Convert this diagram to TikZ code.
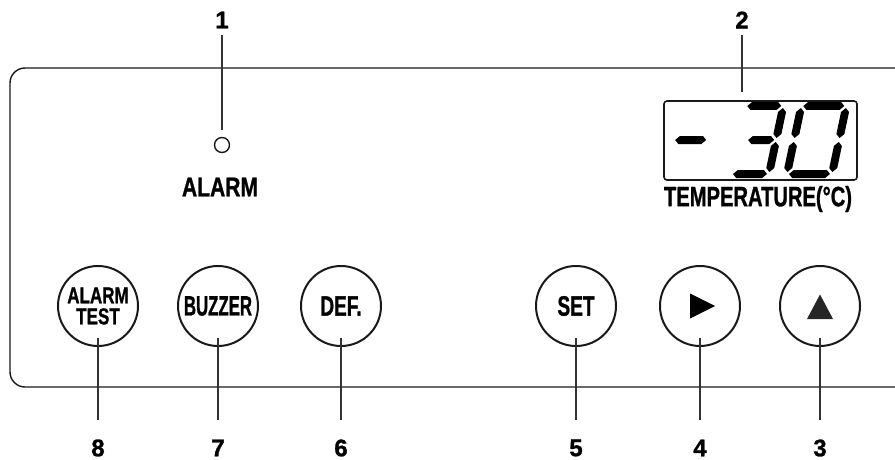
\documentclass[tikz,border=0pt]{standalone}
\usepackage{fontspec}
\setmainfont{Liberation Sans}[BoldFeatures={FakeBold=1.2}]
\usetikzlibrary{calc}
\tikzset{
  lead/.style={draw=black!80, line width=1.4pt},
  btn/.style={circle, draw=black!90, line width=2pt, minimum size=80pt, inner sep=0pt,
    font=\fontsize{28}{20}\selectfont\bfseries, align=center},
  num/.style={font=\fontsize{24}{24}\selectfont\bfseries, inner sep=0pt},
  lbl/.style={font=\fontsize{27}{27}\selectfont\bfseries, inner sep=0pt},
  panel/.style={draw=black!90, line width=1.4pt, rounded corners=15pt},
  dispbox/.style={draw=black!90, line width=1.6pt, rounded corners=3pt, minimum width=193pt, minimum height=79pt, inner sep=0pt},
  led/.style={circle, draw=black!90, line width=1.4pt, minimum size=15pt, inner sep=0pt},
}
\newcommand\cnd[2][0.7]{\scalebox{#1}[1]{#2}}
\newcommand\segm[2]{%
  \path (#1) coordinate (sA) (#2) coordinate (sB);
  \fill (sA) -- ($(sA)!4pt!(sB)!4pt!90:(sB)$) -- ($(sB)!4pt!(sA)!4pt!-90:(sA)$)
    -- (sB) -- ($(sB)!4pt!(sA)!4pt!90:(sA)$) -- ($(sA)!4pt!(sB)!4pt!-90:(sB)$) -- cycle;}
\begin{document}
\begin{tikzpicture}[x=1pt, y=-1pt]
\useasboundingbox (0,0) rectangle (895,460);
\clip (0,0) rectangle (895,460);
% panel
\draw[panel] (10,68) rectangle (910,387);
% LED and alarm
\node[led] (led) at (222,145) {};
\node[lbl] (alarmtxt) at (220,187) {\cnd[0.78]{ALARM}};
\node[num] (n1) at (222,20) {1};
\coordinate (e1) at (222,35);
\draw[lead] (e1) -- ([yshift=7pt]led.north);
% display
\node[dispbox] (disp) at (760.5,140.5) {};
\node[lbl] (temptxt) at (758,199) {\fontsize{28}{28}\selectfont\cnd[0.72]{TEMPERATURE(°C)}};
\node[num] (n2) at (742,20) {2};
\coordinate (e2) at (742,35);
\draw[lead] (e2) -- ([yshift=8pt]disp.north -| e2);
% seven segment digits
\begin{scope}[shift={(666,174)}, xslant=0.21]
  \segm{2,-34}{33,-34}
\end{scope}
\begin{scope}[shift={(731,174)}, xslant=0.21]
  \segm{2,-68}{36,-68}
  \segm{38,-66}{38,-36}
  \segm{38,-32}{38,-2}
  \segm{2,0}{36,0}
  \segm{10,-34}{36,-34}
\end{scope}
\begin{scope}[shift={(787,174)}, xslant=0.21]
  \segm{2,-68}{43,-68}
  \segm{45,-66}{45,-36}
  \segm{45,-32}{45,-2}
  \segm{2,0}{43,0}
  \segm{0,-32}{0,-2}
  \segm{0,-66}{0,-36}
\end{scope}
% buttons
\node[btn, font=\fontsize{23}{21}\selectfont\bfseries] (b8) at (98,306) {\cnd[0.74]{ALARM}\\\cnd[0.74]{TEST}};
\node[btn] (b7) at (218,306) {\cnd[0.6]{BUZZER}};
\node[btn] (b6) at (341,306) {\cnd[0.68]{DEF.}};
\node[btn] (b5) at (576,306) {\cnd[0.68]{SET}};
\node[btn] (b4) at (700,306) {};
\node[btn] (b3) at (820,306) {};
\fill ($(b4)+(-10,-12.5)$) -- ($(b4)+(15,0)$) -- ($(b4)+(-10,12.5)$) -- cycle;
\fill[black!85] ($(b3)+(0,-11.5)$) -- ($(b3)+(13,13)$) -- ($(b3)+(-13,13)$) -- cycle;
% leaders and numbers
\foreach \i/\x in {8/98,7/218,6/341,5/576,4/700,3/820}{
  \node[num] (n\i) at (\x,448) {\i};
  \coordinate (e\i) at (\x,420);
  \draw[lead] ([yshift=-32pt]b\i.center) -- (e\i);
}
\end{tikzpicture}
\end{document}
